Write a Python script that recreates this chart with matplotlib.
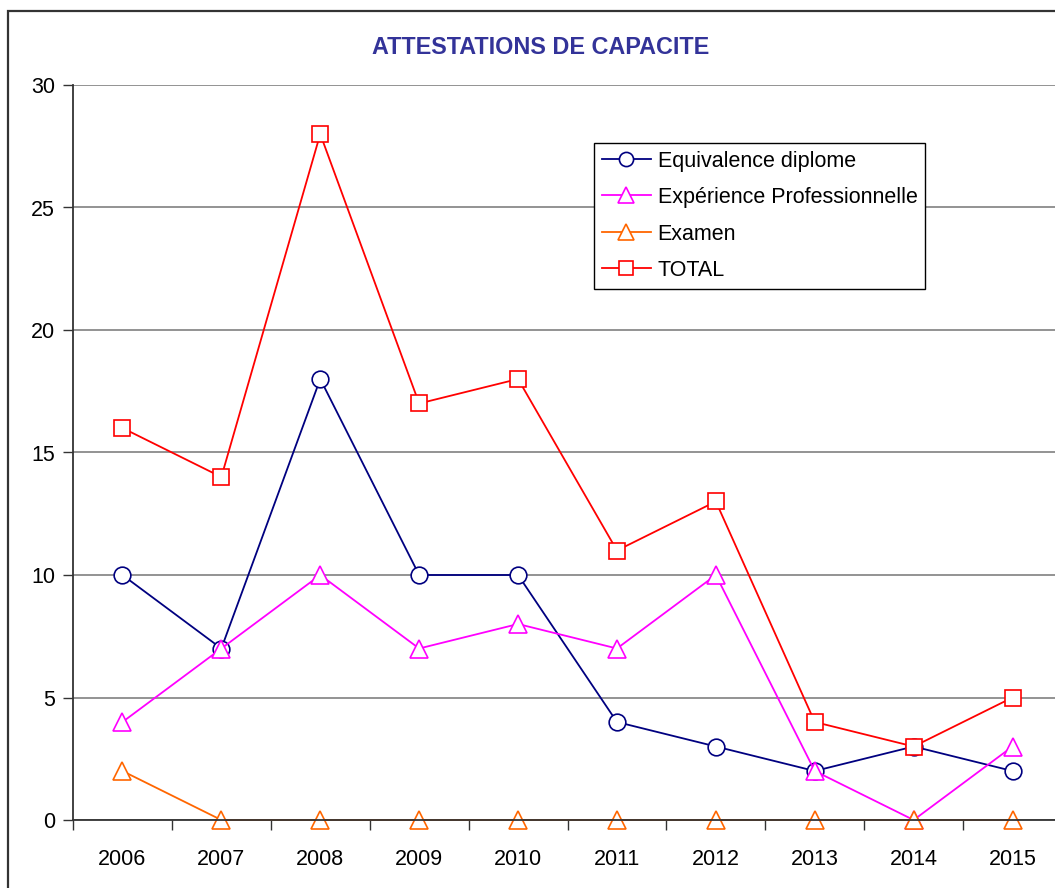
import matplotlib
matplotlib.use('Agg')
from matplotlib import pyplot as plt
from matplotlib.patches import Rectangle
import numpy as np

plt.rcParams['font.family'] = ['Liberation Sans', 'DejaVu Sans']

years = ['2006', '2007', '2008', '2009', '2010', '2011', '2012', '2013', '2014', '2015']
equivalence = [10, 7, 18, 10, 10, 4, 3, 2, 3, 2]
experience = [4, 7, 10, 7, 8, 7, 10, 2, 0, 3]
examen = [2, 0, 0, 0, 0, 0, 0, 0, 0, 0]
total = [16, 14, 28, 17, 18, 11, 13, 4, 3, 5]

W, H = 1055, 888
fig = plt.figure(figsize=(W / 100, H / 100), dpi=100)
ax = fig.add_axes([73 / W, 1 - 820 / H, (1062 - 73) / W, (820 - 85) / H])

# outer frame of the chart (runs off the right and bottom edge)
fig.patches.append(Rectangle((8 / W, -0.2), 1.2, 1.2 - 11 / H,
                             transform=fig.transFigure, fill=False,
                             edgecolor='#333333', linewidth=1.6, clip_on=False))

x = np.arange(len(years))
mk = dict(markerfacecolor='white', markeredgewidth=1.2, linewidth=1.3)
ax.plot(x, equivalence, color='#000080', marker='o', markeredgecolor='#000080',
        markersize=12, label='Equivalence diplome', **mk)
ax.plot(x, experience, color='#FF00FF', marker='^', markeredgecolor='#FF00FF',
        markersize=13.5, label='Expérience Professionnelle', **mk)
ax.plot(x, examen, color='#FF6600', marker='^', markeredgecolor='#FF6600',
        markersize=13.5, label='Examen', **mk)
ax.plot(x, total, color='#FF0000', marker='s', markeredgecolor='#FF0000',
        markersize=12, label='TOTAL', **mk)

for ln in ax.lines:
    ln.set_clip_on(False)

ax.set_xlim(-0.5, len(years) - 0.5)
ax.set_ylim(0, 30)
ax.set_yticks(range(0, 31, 5))
ax.set_xticks(np.arange(len(years) + 1) - 0.5)
ax.set_xticklabels([])
ax.set_xticks(x, minor=True)
ax.set_xticklabels(years, minor=True)
ax.tick_params(axis='x', which='minor', length=0, pad=21, labelsize=15.5)
ax.tick_params(axis='x', which='major', direction='out', length=7, width=1, color='#333333')
ax.tick_params(axis='y', direction='out', length=7, width=1, color='#333333',
               labelsize=15.5, pad=6)
ax.yaxis.grid(True, color='#808080', linewidth=1.2)
ax.set_axisbelow(True)
for s in ['top', 'right']:
    ax.spines[s].set_visible(False)
ax.spines['left'].set_color('#333333')
ax.spines['bottom'].set_color('#333333')
ax.spines['left'].set_linewidth(1.3)
ax.spines['bottom'].set_linewidth(1.3)

fig.text(541 / W, 1 - 48 / H, 'ATTESTATIONS DE CAPACITE', ha='center', va='center',
         fontsize=16.8, fontweight='bold', color='#333399')

leg = ax.legend(loc='upper left', bbox_to_anchor=(594 / W, 1 - 143 / H),
                bbox_transform=fig.transFigure, fancybox=False, framealpha=1,
                edgecolor='black', fontsize=15.5, handlelength=2.3, borderpad=0.35,
                labelspacing=0.72, handletextpad=0.3, borderaxespad=0,
                markerscale=0.85)
leg.get_frame().set_linewidth(1.0)

fig.savefig('out.png', dpi=100)
